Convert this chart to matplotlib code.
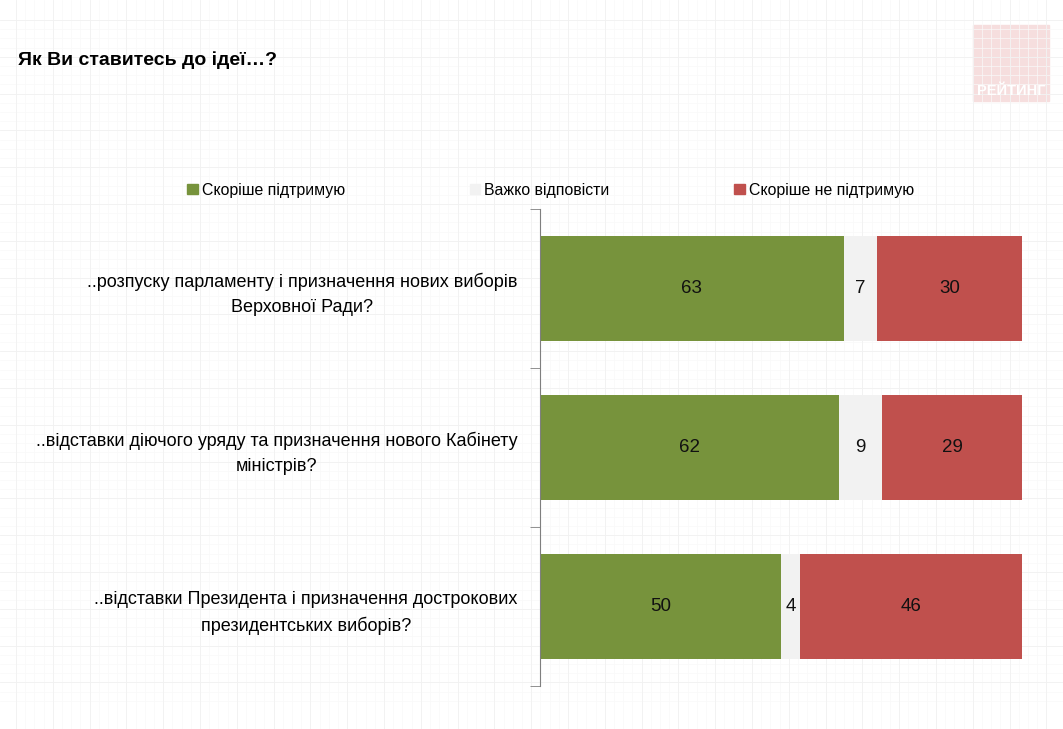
import matplotlib.pyplot as plt
import matplotlib.patches as mpatches
import numpy as np

plt.rcParams['font.family'] = ['Liberation Sans', 'DejaVu Sans']

title = 'Як Ви ставитесь до ідеї…?'
questions = ['..розпуску парламенту і призначення нових виборів\nВерховної Ради?',
             '..відставки діючого уряду та призначення нового Кабінету\nміністрів?',
             '..відставки Президента і призначення дострокових\nпрезидентських виборів?']
series = ['Скоріше підтримую', 'Важко відповісти', 'Скоріше не підтримую']
support = [63, 62, 50]
unsure = [7, 9, 4]
oppose = [30, 29, 46]
colors = ['#77933C', '#F2F2F2', '#C0504D']

W, H = 1063, 729
fig = plt.figure(figsize=(W / 100, H / 100), dpi=100)

# faint graph-paper background
bg = fig.add_axes([0, 0, 1, 1], zorder=-10)
bg.set_xlim(0, W)
bg.set_ylim(H, 0)
bg.axis('off')
for x in np.arange(16, 1052, 9.2):
    bg.axvline(x, color='#f9f9f9', lw=0.5)
for y in np.arange(20, 705, 9.2):
    bg.axhline(y, color='#f9f9f9', lw=0.5)
for x in np.arange(16, 1052, 36.8):
    bg.axvline(x, color='#f1f1f1', lw=0.6)
for y in np.arange(20, 705, 36.8):
    bg.axhline(y, color='#f1f1f1', lw=0.6)

# logo
bg.add_patch(mpatches.Rectangle((973, 25), 76, 76, color='#f6dede', zorder=1))
bg.text(1011, 91, 'РЕЙТИНГ', color='white', fontsize=10.5, fontweight='bold',
        ha='center', va='center', zorder=3)

fig.text(18 / W, 1 - 60 / H, title, fontsize=14, fontweight='bold',
         ha='left', va='center')

ax = fig.add_axes([540 / W, 43 / H, 482 / W, 477 / H])
ypos = np.arange(len(questions))
data = [support, unsure, oppose]
left = np.zeros(len(questions))
for vals, col, name in zip(data, colors, series):
    bars = ax.barh(ypos, vals, left=left, height=0.66, color=col, label=name)
    for b, v in zip(bars, vals):
        ax.text(b.get_x() + b.get_width() / 2, b.get_y() + b.get_height() / 2,
                str(v), ha='center', va='center', fontsize=13.5, color='#111111')
    left += np.array(vals)

ax.set_xlim(0, 100)
ax.set_ylim(len(questions) - 0.5, -0.5)
ax.set_yticks(ypos)
ax.set_yticklabels(questions, fontsize=13, ha='right', multialignment='center',
                   linespacing=1.6)
ax.tick_params(axis='y', which='major', length=0, pad=16)
ax.set_yticks(np.arange(-0.5, len(questions)), minor=True)
ax.tick_params(axis='y', which='minor', length=7, color='#7f7f7f', direction='out')
ax.set_xticks([])
for s in ['top', 'right', 'bottom']:
    ax.spines[s].set_visible(False)
ax.spines['left'].set_color('#7f7f7f')
ax.patch.set_alpha(0)

handles = [mpatches.Patch(color=c, label=s) for c, s in zip(colors, series)]
fig.legend(handles=handles, ncol=3, loc='center left', frameon=False,
           bbox_to_anchor=(173 / W, 1 - 190 / H), fontsize=11.4,
           handlelength=0.65, handleheight=0.65, handletextpad=0.25,
           columnspacing=7.9)

fig.savefig('out.png', dpi=100)
